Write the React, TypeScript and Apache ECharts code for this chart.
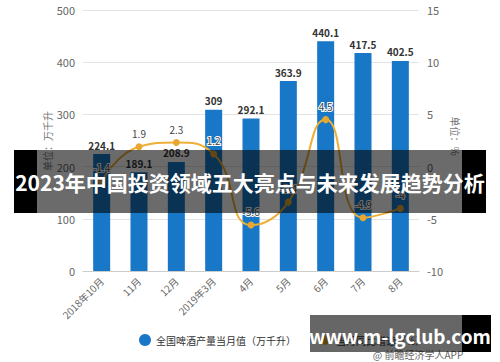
import React, { useEffect, useRef } from "react";
import * as echarts from "echarts";

const categories = ["2018年10月", "11月", "12月", "2019年3月", "4月", "5月", "6月", "7月", "8月"];
const production = [224.1, 189.1, 208.9, 309, 292.1, 363.9, 440.1, 417.5, 402.5];
const growth = [-1.4, 1.9, 2.3, 1.2, -5.6, -3.4, 4.5, -4.9, -4];
const leftTicks = { min: 0, max: 500, interval: 100 };
const rightTicks = { min: -10, max: 15, interval: 5 };
const seriesNames = ["全国啤酒产量当月值（万千升）", "当月同比增速（%）"];
const bannerText = "2023年中国投资领域五大亮点与未来发展趋势分析";
const siteText = "www.m-lgclub.com";
const sourceText = "@ 前瞻经济学人APP";

const FONT = '"Noto Sans CJK SC", "Noto Sans", sans-serif';

export default function App() {
  const ref = useRef<HTMLDivElement>(null);
  useEffect(() => {
    if (!ref.current) return;
    const chart = echarts.init(ref.current, null, { renderer: "svg" });
    chart.setOption({
      animation: false,
      textStyle: { fontFamily: FONT },
      grid: { left: 83, right: 81, top: 10, bottom: 91 },
      legend: {
        left: 134,
        top: 329,
        itemGap: 22,
        itemWidth: 12,
        itemHeight: 12,
        textStyle: { fontSize: 10, color: "#333", fontFamily: FONT },
        data: [
          { name: seriesNames[0], icon: "circle" },
          { name: seriesNames[1] },
        ],
      },
      xAxis: {
        type: "category",
        data: categories,
        axisTick: { alignWithLabel: true, lineStyle: { color: "#bbb" } },
        axisLine: { lineStyle: { color: "#ccc" } },
        axisLabel: { rotate: 45, color: "#666", fontSize: 10, margin: 8, fontFamily: FONT },
      },
      yAxis: [
        {
          type: "value",
          ...leftTicks,
          axisLine: { show: false },
          axisTick: { show: false },
          axisLabel: { color: "#666", fontSize: 11, margin: 8 },
          splitLine: { lineStyle: { color: "#e3e3e3" } },
        },
        {
          type: "value",
          ...rightTicks,
          axisLine: { show: false },
          axisTick: { show: false },
          axisLabel: { color: "#666", fontSize: 11, margin: 8 },
          splitLine: { show: false },
        },
      ],
      series: [
        {
          name: seriesNames[0],
          type: "bar",
          data: production,
          barWidth: 17,
          itemStyle: { color: "#1877c6" },
          label: {
            show: true,
            position: "top",
            color: "#333",
            fontSize: 10,
            fontWeight: "bold",
            distance: 4,
          },
          z: 2,
        },
        {
          name: seriesNames[1],
          type: "line",
          yAxisIndex: 1,
          data: growth,
          smooth: true,
          symbol: "circle",
          symbolSize: 7,
          lineStyle: { color: "#eeae38", width: 2 },
          itemStyle: { color: "#e9a730" },
          label: {
            show: true,
            position: "top",
            color: "#444",
            fontSize: 10,
            textBorderColor: "#fff",
            textBorderWidth: 2,
          },
          z: 3,
        },
      ],
      graphic: [
        {
          type: "text",
          x: 47,
          y: 141,
          rotation: Math.PI / 2,
          style: { text: "单位：万千升", fill: "#777", fontSize: 10, fontFamily: FONT, textAlign: "center", textVerticalAlign: "middle" },
        },
        {
          type: "text",
          x: 455,
          y: 136,
          rotation: -Math.PI / 2,
          style: { text: "单位：%", fill: "#777", fontSize: 10, fontFamily: FONT, textAlign: "center", textVerticalAlign: "middle" },
        },
        {
          type: "text",
          x: 418,
          y: 354,
          z: 50,
          style: { text: sourceText, fill: "#666", fontSize: 10, fontFamily: FONT, textAlign: "center", textVerticalAlign: "middle" },
        },
        { type: "rect", z: 100, shape: { x: 14, y: 150, width: 23, height: 63 }, style: { fill: "#000" } },
        { type: "rect", z: 100, shape: { x: 37, y: 150, width: 425, height: 63 }, style: { fill: "rgba(0,0,0,0.58)" } },
        { type: "rect", z: 100, shape: { x: 462, y: 150, width: 24, height: 63 }, style: { fill: "#000" } },
        {
          type: "text",
          z: 101,
          x: 250,
          y: 182,
          style: { text: bannerText, fill: "#fff", fontSize: 21, fontWeight: "bold", fontFamily: FONT, textAlign: "center", textVerticalAlign: "middle" },
        },
        { type: "rect", z: 100, shape: { x: 310, y: 315, width: 152, height: 37 }, style: { fill: "rgba(0,0,0,0.6)" } },
        { type: "rect", z: 100, shape: { x: 462, y: 315, width: 29, height: 37 }, style: { fill: "#000" } },
        {
          type: "text",
          z: 101,
          x: 400,
          y: 335,
          style: { text: siteText, fill: "#fff", fontSize: 19, fontWeight: "bold", fontFamily: FONT, textAlign: "center", textVerticalAlign: "middle" },
        },
      ],
    });
    return () => chart.dispose();
  }, []);
  return <div ref={ref} style={{ width: 500, height: 362, position: "absolute", left: 0, top: 0 }} />;
}
